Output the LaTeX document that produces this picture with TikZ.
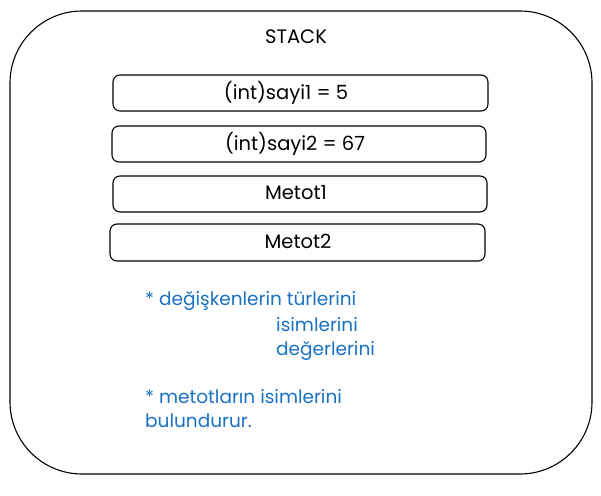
\documentclass[tikz,border=0pt]{standalone}
\usepackage{fontspec}
\setmainfont{Poppins}
\definecolor{noteblue}{HTML}{1971C2}
\begin{document}
\begin{tikzpicture}[x=1pt,y=-1pt,
  frame/.style={draw=black,line width=1.1pt,rounded corners=72pt},
  slot/.style={draw=black,line width=1.1pt,rounded corners=7pt},
  lbl/.style={font=\fontsize{19.5}{22}\selectfont,text=black,inner sep=0pt},
  note/.style={font=\fontsize{18.5}{22}\selectfont,text=noteblue,anchor=base west,inner sep=0pt}]
\useasboundingbox (0,0) rectangle (601,495);
\draw[frame] (10,11) rectangle (592,474);
\node[lbl] (title) at (296,37) {STACK};
\draw[slot] (113,75) rectangle (488,111);
\node[lbl] (s1) at (286,93) {(int)sayi1 = 5};
\draw[slot] (112,126) rectangle (486,162);
\node[lbl] (s2) at (295,144) {(int)sayi2 = 67};
\draw[slot] (113,176) rectangle (487,212);
\node[lbl] (m1) at (296,193) {Metot1};
\draw[slot] (110,224) rectangle (485,261);
\node[lbl] (m2) at (298,241) {Metot2};
\node[note] (n1) at (145,305) {* değişkenlerin türlerini};
\node[note] (n2) at (276,331) {isimlerini};
\node[note] (n3) at (276,355) {değerlerini};
\node[note] (n4) at (145,403) {* metotların isimlerini};
\node[note] (n5) at (145,427) {bulundurur.};
\end{tikzpicture}
\end{document}
